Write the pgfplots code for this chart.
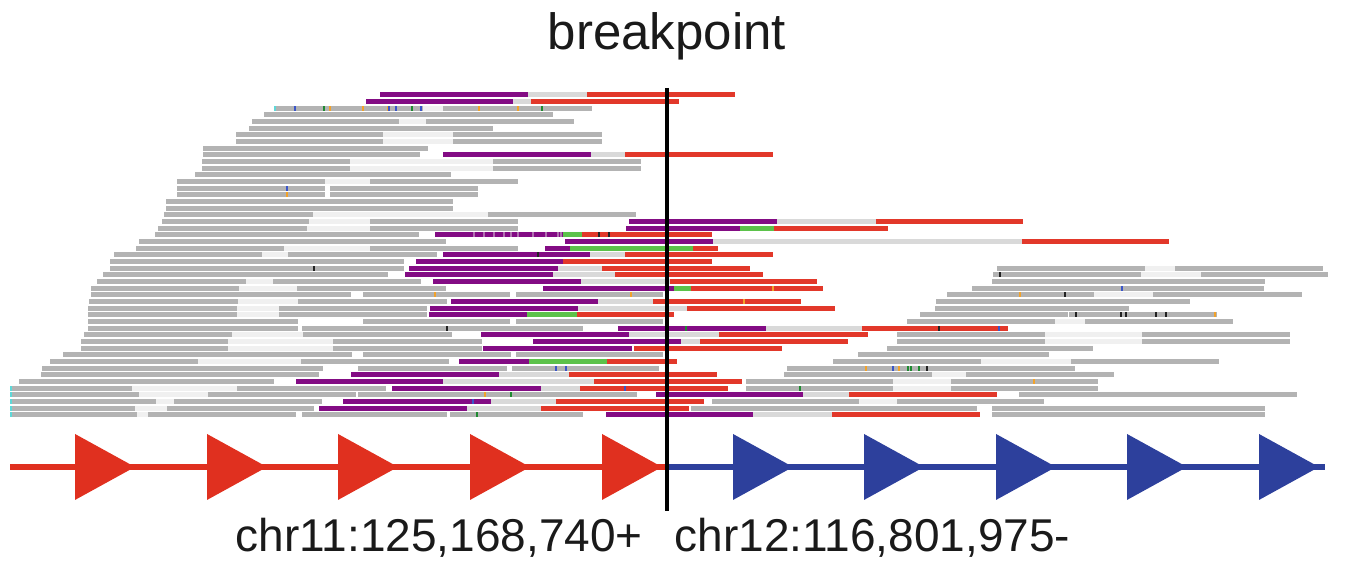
\documentclass[border=0pt]{standalone}
\usepackage{pgfplots}
\pgfplotsset{compat=1.18}
\usepackage{pgfplotstable}
\usepackage{fontspec}
\setmainfont{Liberation Sans}
\definecolor{cG}{HTML}{B3B3B3}
\definecolor{cW}{HTML}{F0F0F0}
\definecolor{cL}{HTML}{D9D9D9}
\definecolor{cP}{HTML}{830C84}
\definecolor{cR}{HTML}{E2382A}
\definecolor{cN}{HTML}{5CC24A}
\definecolor{tO}{HTML}{F2A22A}
\definecolor{tB}{HTML}{3A55C8}
\definecolor{tN}{HTML}{1E8A30}
\definecolor{tK}{HTML}{222222}
\definecolor{tC}{HTML}{5FD8D8}
\definecolor{tPL}{HTML}{B070B0}
\definecolor{aR}{HTML}{E0301F}
\definecolor{aB}{HTML}{2D409C}
\definecolor{txt}{HTML}{1A1A1A}

\pgfdeclareplotmark{rtri}{%
  \pgfpathmoveto{\pgfpoint{-0.909\pgfplotmarksize}{\pgfplotmarksize}}%
  \pgfpathlineto{\pgfpoint{0.909\pgfplotmarksize}{0pt}}%
  \pgfpathlineto{\pgfpoint{-0.909\pgfplotmarksize}{-\pgfplotmarksize}}%
  \pgfpathclose\pgfusepathqfill}

% gray read segments: a b row
\pgfplotstableread{
a b r
274 423 2
443 592 2
264 553 3
252 399 4
426 574 4
249 493 5
236 383 6
453 602 6
236 383 7
453 602 7
203 428 8
203 420 9
202 350 10
493 641 10
202 350 11
493 641 11
195 451 12
177 325 13
370 518 13
177 325 14
330 478 14
177 325 15
330 478 15
166 453 16
166 453 17
164 313 18
488 636 18
162 309 19
370 518 19
158 307 20
370 518 20
155 419 21
139 446 22
136 284 23
370 518 23
114 262 24
288 437 24
110 404 25
110 404 26
997 1145 26
1175 1323 26
103 388 27
993 1141 27
1201 1328 27
97 246 28
273 421 28
992 1265 28
91 239 29
297 446 29
972 1264 29
91 351 30
363 510 30
516 663 30
947 1094 30
1153 1302 30
89 238 31
298 447 31
936 1190 31
88 237 32
279 427 32
935 1129 32
88 237 33
279 427 33
920 1068 33
1069 1217 33
88 298 34
363 510 34
516 663 34
907 1055 34
1085 1233 34
88 298 35
302 583 35
84 232 36
303 452 36
897 1045 36
1142 1290 36
81 228 37
333 482 37
897 1045 37
1142 1290 37
81 228 38
333 482 38
887 1093 38
63 352 39
363 511 39
516 663 39
858 1049 39
50 198 40
301 449 40
833 981 40
1071 1219 40
42 323 41
358 507 41
512 659 41
787 1075 41
41 319 42
784 932 42
966 1114 42
19 274 43
746 893 43
951 1098 43
10 132 44
237 386 44
746 893 44
951 1098 44
10 139 45
208 356 45
358 637 45
1019 1297 45
10 156 46
174 322 46
712 859 46
897 1044 46
10 135 47
167 314 47
691 977 47
992 1265 47
10 137 48
148 296 48
302 447 48
450 583 48
992 1265 48
}\segG

\pgfplotstableread{
a b r
423 443 2
399 426 4
383 453 6
383 453 7
350 493 10
350 493 11
325 370 13
313 488 18
309 370 19
307 370 20
284 370 23
262 288 24
1145 1175 26
1141 1201 27
246 273 28
239 297 29
1094 1153 30
238 298 31
237 279 32
237 279 33
1055 1085 34
232 303 36
1045 1142 36
228 333 37
1045 1142 37
228 333 38
198 301 40
981 1071 40
932 966 42
893 951 43
132 237 44
893 951 44
139 208 45
156 174 46
859 897 46
135 167 47
137 148 48
}\segW

\pgfplotstableread{
a b r
528 587 0
513 531 1
591 625 9
777 876 19
713 1022 22
590 625 24
558 602 26
553 615 27
581 670 28
598 653 31
578 687 32
766 862 35
629 719 36
681 700 37
499 569 42
443 594 43
541 580 44
803 849 45
491 556 46
467 541 47
753 832 48
}\segL

\pgfplotstableread{
a b r
380 528 0
366 513 1
443 591 9
629 777 19
626 740 20
435 563 21
565 713 22
545 570 23
443 590 24
416 563 25
409 558 26
405 553 27
433 581 28
543 674 29
451 598 31
430 578 32
429 527 33
618 766 35
481 629 36
533 681 37
483 632 38
459 529 40
351 499 42
296 443 43
392 541 44
656 803 45
343 491 46
319 467 47
606 753 48
}\segP

\pgfplotstableread{
a b r
587 735 0
531 679 1
625 773 9
876 1023 19
774 888 20
582 712 21
1022 1169 22
693 718 23
625 773 24
563 712 25
602 750 26
615 763 27
670 817 28
691 823 29
653 801 31
687 835 32
577 674 33
862 1008 35
719 868 36
700 848 37
634 782 38
607 677 40
569 717 42
594 742 43
580 728 44
849 997 45
556 704 46
541 689 47
832 980 48
}\segR

\pgfplotstableread{
a b r
740 774 20
563 582 21
570 693 23
674 691 29
527 577 33
529 607 40
}\segN

% mismatch ticks: position, row
\pgfplotstableread{
a r
329 2
362 2
387 2
478 2
517 2
286 15
434 30
630 30
1019 30
772 29
743 31
1214 33
865 41
898 41
1033 43
484 45
}\tickO

\pgfplotstableread{
a r
294 2
388 2
395 2
420 2
286 14
1121 29
998 35
555 41
565 41
892 41
624 44
472 46
}\tickB

\pgfplotstableread{
a r
323 2
411 2
541 2
685 35
907 41
910 41
918 41
799 44
510 45
476 48
}\tickN

\pgfplotstableread{
a r
313 26
999 27
1064 30
1075 33
1120 33
1125 33
1155 33
1165 33
938 35
446 35
537 24
926 41
598 21
608 21
}\tickK

\pgfplotstableread{
a r
473 21
483 21
493 21
503 21
510 21
517 21
532 21
545 21
557 21
560 21
}\tickPL

\pgfplotstableread{
a r
274 2
10 44
10 45
10 46
10 47
10 48
}\tickC

\begin{document}
\begin{tikzpicture}
\begin{axis}[
  scale only axis, width=405pt, height=171pt,
  xmin=0, xmax=1350, ymin=0, ymax=570, y dir=reverse,
  hide axis, clip=false,
  seg/.style={quiver={u=\thisrow{b}-\thisrow{a}, v=0}, line width=1.5pt},
  tick/.style={quiver={u=2, v=0}, line width=1.5pt},
]
\path (axis cs:0,0) rectangle (axis cs:1350,570);

\addplot[seg, draw=cG] table[x=a, y expr={95+6.6667*\thisrow{r}}] {\segG};
\addplot[seg, draw=cW] table[x=a, y expr={95+6.6667*\thisrow{r}}] {\segW};
\addplot[seg, draw=cL] table[x=a, y expr={95+6.6667*\thisrow{r}}] {\segL};
\addplot[seg, draw=cP] table[x=a, y expr={95+6.6667*\thisrow{r}}] {\segP};
\addplot[seg, draw=cR] table[x=a, y expr={95+6.6667*\thisrow{r}}] {\segR};
\addplot[seg, draw=cN] table[x=a, y expr={95+6.6667*\thisrow{r}}] {\segN};

\addplot[tick, draw=tO] table[x=a, y expr={95+6.6667*\thisrow{r}}] {\tickO};
\addplot[tick, draw=tB] table[x=a, y expr={95+6.6667*\thisrow{r}}] {\tickB};
\addplot[tick, draw=tN] table[x=a, y expr={95+6.6667*\thisrow{r}}] {\tickN};
\addplot[tick, draw=tK] table[x=a, y expr={95+6.6667*\thisrow{r}}] {\tickK};
\addplot[tick, draw=tPL] table[x=a, y expr={95+6.6667*\thisrow{r}}] {\tickPL};
\addplot[tick, draw=tC] table[x=a, y expr={95+6.6667*\thisrow{r}}] {\tickC};

% gene track
\addplot[aR, line width=1.8pt] coordinates {(10,467) (667,467)};
\addplot[aB, line width=1.8pt] coordinates {(667,467) (1325,467)};
\addplot[only marks, mark=rtri, mark size=9.9pt, color=aR]
  coordinates {(105,467) (237,467) (368,467) (500,467) (632,467)};
\addplot[only marks, mark=rtri, mark size=9.9pt, color=aB]
  coordinates {(763,467) (894,467) (1026,467) (1157,467) (1289,467)};

% breakpoint line
\addplot[black, line width=1.2pt] coordinates {(667,88) (667,511)};

\node[anchor=base, inner sep=0pt, text=txt, font=\fontsize{15.3}{18}\selectfont]
  at (axis cs:667,50) {breakpoint};
\node[anchor=base west, inner sep=0pt, text=txt, font=\fontsize{13.8}{16}\selectfont]
  at (axis cs:235,552) {chr11:125,168,740+};
\node[anchor=base west, inner sep=0pt, text=txt, font=\fontsize{13.8}{16}\selectfont]
  at (axis cs:674,552) {chr12:116,801,975-};
\end{axis}
\end{tikzpicture}
\end{document}
